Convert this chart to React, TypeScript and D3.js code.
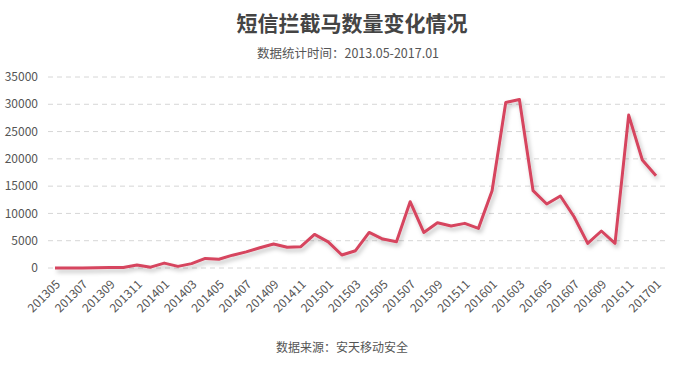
import React, { useEffect, useRef } from 'react';
import * as d3 from 'd3';

const months = [
  '201305', '201306', '201307', '201308', '201309', '201310', '201311', '201312',
  '201401', '201402', '201403', '201404', '201405', '201406', '201407', '201408',
  '201409', '201410', '201411', '201412', '201501', '201502', '201503', '201504',
  '201505', '201506', '201507', '201508', '201509', '201510', '201511', '201512',
  '201601', '201602', '201603', '201604', '201605', '201606', '201607', '201608',
  '201609', '201610', '201611', '201612', '201701',
];
const counts = [
  0, 0, 0, 50, 100, 100, 550, 150,
  900, 300, 800, 1750, 1600, 2350, 2950, 3700,
  4400, 3800, 3900, 6150, 4800, 2380, 3170, 6520,
  5300, 4820, 12150, 6520, 8300, 7700, 8180, 7260,
  14170, 30340, 30890, 14170, 11720, 13190, 9400, 4520,
  6780, 4520, 28020, 19780, 16900,
];
const yTicks = [0, 5000, 10000, 15000, 20000, 25000, 30000, 35000];

const title = '短信拦截马数量变化情况';
const subtitle = '数据统计时间：2013.05-2017.01';
const source = '数据来源：安天移动安全';

function App() {
  const ref = useRef<SVGSVGElement>(null);

  useEffect(() => {
    const W = 673, H = 370;
    const svg = d3.select(ref.current);
    svg.selectAll('*').remove();
    svg.attr('width', W).attr('height', H);
    const font = '"Noto Sans CJK SC", "Microsoft YaHei", sans-serif';

    const x = d3.scalePoint<string>().domain(months).range([55, 656]);
    const y = d3.scaleLinear().domain([0, 35000]).range([268, 77]);

    // shadow under the line
    const defs = svg.append('defs');
    const f = defs.append('filter').attr('id', 'shadow')
      .attr('x', '-10%').attr('y', '-10%').attr('width', '120%').attr('height', '130%');
    f.append('feDropShadow')
      .attr('dx', 2).attr('dy', 3).attr('stdDeviation', 2)
      .attr('flood-color', '#000').attr('flood-opacity', 0.25);

    // titles
    svg.append('text')
      .attr('x', 352).attr('y', 31)
      .attr('text-anchor', 'middle')
      .style('font-family', font).style('font-size', '21px').style('font-weight', 'bold')
      .style('fill', '#444')
      .text(title);
    svg.append('text')
      .attr('x', 348).attr('y', 58)
      .attr('text-anchor', 'middle')
      .style('font-family', font).style('font-size', '12.5px')
      .style('fill', '#555')
      .text(subtitle);

    // grid + y labels
    const g = svg.append('g');
    g.selectAll('line.grid')
      .data(yTicks)
      .enter()
      .append('line')
      .attr('x1', 48).attr('x2', 665)
      .attr('y1', d => y(d)).attr('y2', d => y(d))
      .attr('stroke', '#d6d6d6')
      .attr('stroke-dasharray', '5,4');
    g.selectAll('text.ylab')
      .data(yTicks)
      .enter()
      .append('text')
      .attr('x', 38).attr('y', d => y(d))
      .attr('dy', '0.35em')
      .attr('text-anchor', 'end')
      .style('font-family', font).style('font-size', '12px')
      .style('fill', '#555')
      .text(d => d);

    // x labels, every second month
    const labels = months.filter((_, i) => i % 2 === 0);
    g.selectAll('text.xlab')
      .data(labels)
      .enter()
      .append('text')
      .attr('transform', d => `translate(${(x(d) as number) + 3}, 282) rotate(-45)`)
      .attr('text-anchor', 'end')
      .attr('dy', '0.35em')
      .style('font-family', font).style('font-size', '12px')
      .style('fill', '#555')
      .text(d => d);

    // line
    const line = d3.line<number>()
      .x((_, i) => x(months[i]) as number)
      .y(d => y(d));
    svg.append('path')
      .datum(counts)
      .attr('d', line)
      .attr('fill', 'none')
      .attr('stroke', '#d6455e')
      .attr('stroke-width', 3)
      .attr('stroke-linejoin', 'round')
      .attr('filter', 'url(#shadow)');

    svg.append('text')
      .attr('x', 342).attr('y', 352)
      .attr('text-anchor', 'middle')
      .style('font-family', font).style('font-size', '12px')
      .style('fill', '#555')
      .text(source);
  }, []);

  return (
    <div style={{ position: 'absolute', left: 0, top: 0 }}>
      <svg ref={ref}></svg>
    </div>
  );
}

export default App;
